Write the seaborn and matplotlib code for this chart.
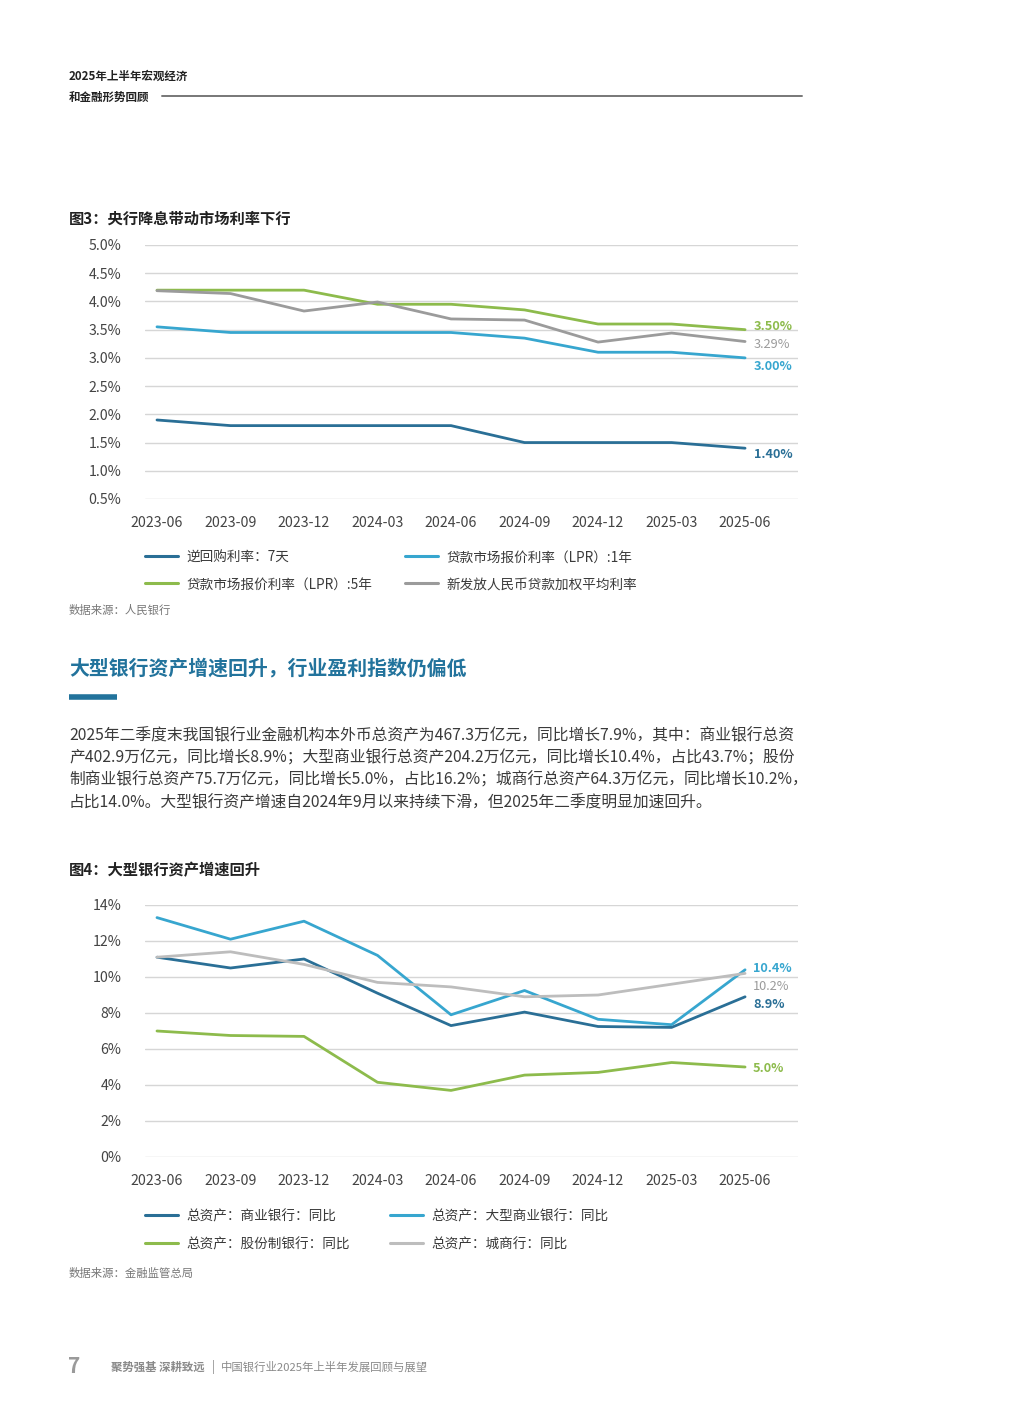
import matplotlib
matplotlib.use("Agg")
import matplotlib.pyplot as plt
from matplotlib.lines import Line2D
import seaborn as sns
import pandas as pd

sns.set_theme(style="white")
plt.rcParams['font.family'] = ['Noto Sans CJK SC', 'DejaVu Sans']

W, H = 1018, 1428

# ---------------- data ----------------
months = ["2023-06", "2023-09", "2023-12", "2024-03", "2024-06",
          "2024-09", "2024-12", "2025-03", "2025-06"]

rate_names = ["逆回购利率：7天", "贷款市场报价利率（LPR）:1年",
              "贷款市场报价利率（LPR）:5年", "新发放人民币贷款加权平均利率"]
reverse_repo_7d = [1.90, 1.80, 1.80, 1.80, 1.80, 1.50, 1.50, 1.50, 1.40]
lpr_1y = [3.55, 3.45, 3.45, 3.45, 3.45, 3.35, 3.10, 3.10, 3.00]
lpr_5y = [4.20, 4.20, 4.20, 3.95, 3.95, 3.85, 3.60, 3.60, 3.50]
weighted_loan_rate = [4.19, 4.14, 3.83, 3.99, 3.69, 3.67, 3.28, 3.44, 3.29]
rate_yticks = [0.5, 1.0, 1.5, 2.0, 2.5, 3.0, 3.5, 4.0, 4.5, 5.0]

asset_names = ["总资产：商业银行：同比", "总资产：大型商业银行：同比",
               "总资产：股份制银行：同比", "总资产：城商行：同比"]
commercial_banks = [11.1, 10.5, 11.0, 9.1, 7.3, 8.05, 7.25, 7.2, 8.9]
large_banks = [13.3, 12.1, 13.1, 11.2, 7.9, 9.25, 7.65, 7.35, 10.4]
joint_stock_banks = [7.0, 6.75, 6.7, 4.15, 3.7, 4.55, 4.7, 5.25, 5.0]
city_banks = [11.1, 11.4, 10.7, 9.7, 9.45, 8.9, 9.0, 9.6, 10.2]
asset_yticks = [0, 2, 4, 6, 8, 10, 12, 14]

DARK = "#2a6f96"
LIGHT = "#37a6cf"
GREEN = "#8dbb4c"
GRAY1 = "#9b9b9b"
GRAY2 = "#bdbdbd"
HEAD = "#22739c"
TXT = "#3a3a3a"

rate_colors = dict(zip(rate_names, [DARK, LIGHT, GREEN, GRAY1]))
asset_colors = dict(zip(asset_names, [DARK, LIGHT, GREEN, GRAY2]))

rates_df = pd.DataFrame({"月份": months * 4,
                         "值": reverse_repo_7d + lpr_1y + lpr_5y + weighted_loan_rate,
                         "系列": sum([[n] * len(months) for n in rate_names], [])})
assets_df = pd.DataFrame({"月份": months * 4,
                          "值": commercial_banks + large_banks + joint_stock_banks + city_banks,
                          "系列": sum([[n] * len(months) for n in asset_names], [])})

fig = plt.figure(figsize=(W / 100, H / 100), dpi=100)
fig.patch.set_facecolor("white")

TOFF = 1.5  # vertical text centring correction (px)


def fx(px):
    return px / W


def fy(py):
    return 1 - py / H


def ty(py):
    return fy(py + TOFF)


def axes_px(l, t, r, b):
    return fig.add_axes([fx(l), fy(b), fx(r) - fx(l), fy(t) - fy(b)])


# ---------------- header ----------------
fig.text(fx(69), ty(75), "2025年上半年宏观经济", fontsize=8.3, fontweight="bold",
         color="#222222", va="center")
fig.text(fx(69), ty(96), "和金融形势回顾", fontsize=8.3, fontweight="bold",
         color="#222222", va="center")
fig.add_artist(Line2D([fx(162), fx(802)], [fy(96), fy(96)], color="#777777",
                      lw=1.4, transform=fig.transFigure))


def style_axes(ax, yticks, fmt, ylim):
    ax.set_xlim(-0.163, 8.72)
    ax.set_ylim(*ylim)
    ax.set_yticks(yticks)
    ax.set_yticklabels([fmt(v) for v in yticks])
    ax.set_xticks(range(len(months)))
    ax.set_xticklabels(months)
    ax.grid(axis="y", color="#d6d6d6", lw=1.0)
    ax.grid(axis="x", visible=False)
    for s in ax.spines.values():
        s.set_visible(False)
    ax.tick_params(axis="y", length=0, pad=17, labelsize=10.2, labelcolor="#444444")
    ax.tick_params(axis="x", length=0, pad=12, labelsize=10.2, labelcolor="#444444")
    ax.set_xlabel("")
    ax.set_ylabel("")
    ax.set_facecolor("white")
    ax.set_axisbelow(True)


def draw_legend(entries, colors, rows_y, cols_x):
    for i, name in enumerate(entries):
        r, c = i // 2, i % 2
        y = rows_y[r]
        x0 = cols_x[c]
        fig.add_artist(Line2D([fx(x0), fx(x0 + 33)], [fy(y), fy(y)], color=colors[name],
                              lw=2.2, transform=fig.transFigure))
        fig.text(fx(x0 + 41), ty(y), name, fontsize=9.8, color=TXT, va="center")


# ---------------- chart 1 ----------------
fig.text(fx(69), ty(217), "图3：央行降息带动市场利率下行", fontsize=11, fontweight="bold",
         color="#222222", va="center")
ax1 = axes_px(145, 245, 798, 499)
sns.lineplot(data=rates_df, x="月份", y="值", hue="系列", hue_order=rate_names,
             palette=rate_colors, sort=False, legend=False, lw=2.0, ax=ax1)
style_axes(ax1, rate_yticks, lambda v: f"{v:.1f}%", (0.5, 5.0))
end_labels1 = [(lpr_5y, GREEN, 325), (weighted_loan_rate, GRAY1, 343),
               (lpr_1y, LIGHT, 365), (reverse_repo_7d, DARK, 453)]
for series, col, ypx in end_labels1:
    fig.text(fx(754), ty(ypx), f"{series[-1]:.2f}%", color=col, fontsize=9.2,
             fontweight="bold" if col != GRAY1 else "normal", va="center")
draw_legend(rate_names, rate_colors, [556, 583], [145, 405])
fig.text(fx(69), ty(609), "数据来源：人民银行", fontsize=8.2, color="#777777", va="center")

# ---------------- section text ----------------
fig.text(fx(69), ty(666), "大型银行资产增速回升，行业盈利指数仍偏低", fontsize=14.3,
         fontweight="bold", color=HEAD, va="center")
fig.add_artist(Line2D([fx(69), fx(117)], [fy(697), fy(697)], color=HEAD, lw=4.0,
                      solid_capstyle="butt", transform=fig.transFigure))
para = [
    "2025年二季度末我国银行业金融机构本外币总资产为467.3万亿元，同比增长7.9%，其中：商业银行总资",
    "产402.9万亿元，同比增长8.9%；大型商业银行总资产204.2万亿元，同比增长10.4%，占比43.7%；股份",
    "制商业银行总资产75.7万亿元，同比增长5.0%，占比16.2%；城商行总资产64.3万亿元，同比增长10.2%，",
    "占比14.0%。大型银行资产增速自2024年9月以来持续下滑，但2025年二季度明显加速回升。",
]
for i, line in enumerate(para):
    fig.text(fx(69), ty(734 + i * 22.5), line, fontsize=11.35, color=TXT, va="center")

# ---------------- chart 2 ----------------
fig.text(fx(69), ty(869), "图4：大型银行资产增速回升", fontsize=11, fontweight="bold",
         color="#222222", va="center")
ax2 = axes_px(145, 905, 798, 1157)
sns.lineplot(data=assets_df, x="月份", y="值", hue="系列", hue_order=asset_names,
             palette=asset_colors, sort=False, legend=False, lw=2.0, ax=ax2)
style_axes(ax2, asset_yticks, lambda v: f"{v:.0f}%", (0, 14))
end_labels2 = [(large_banks, LIGHT, 967), (city_banks, "#9b9b9b", 985),
               (commercial_banks, DARK, 1003), (joint_stock_banks, GREEN, 1067)]
for series, col, ypx in end_labels2:
    fig.text(fx(753), ty(ypx), f"{series[-1]:.1f}%", color=col, fontsize=9.2,
             fontweight="bold" if col != "#9b9b9b" else "normal", va="center")
draw_legend(asset_names, asset_colors, [1215, 1243], [145, 390])
fig.text(fx(69), ty(1272), "数据来源：金融监管总局", fontsize=8.2, color="#777777", va="center")

# ---------------- footer ----------------
fig.text(fx(68), ty(1365), "7", fontsize=15, fontweight="bold", color="#9a9a9a", va="center")
fig.text(fx(111), ty(1366), "聚势强基 深耕致远", fontsize=8.2, fontweight="bold",
         color="#8a8a8a", va="center")
fig.text(fx(212), ty(1366), "|", fontsize=8.5, color="#8a8a8a", va="center")
fig.text(fx(221), ty(1366), "中国银行业2025年上半年发展回顾与展望", fontsize=8.2,
         color="#8a8a8a", va="center")

fig.savefig("out.png", dpi=100, facecolor="white")
